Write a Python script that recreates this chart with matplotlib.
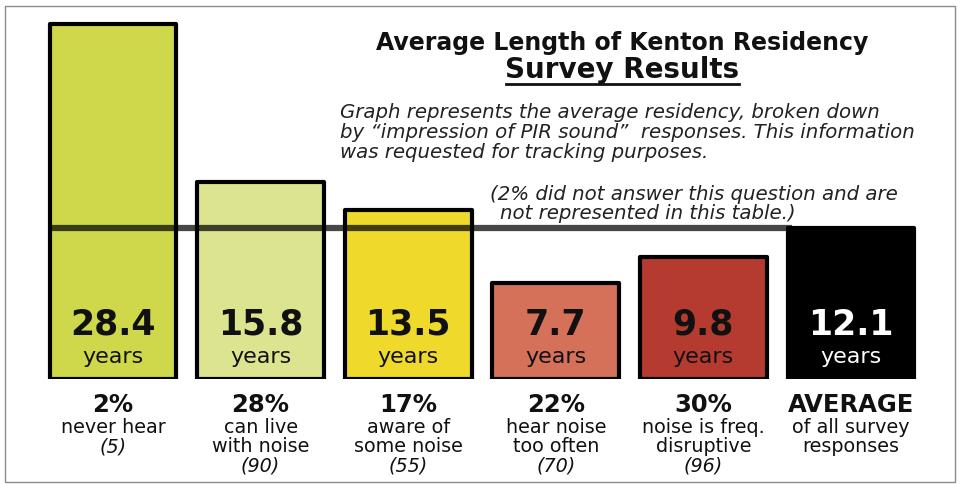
import matplotlib.pyplot as plt
from matplotlib.patches import Rectangle

# data
values = [28.4, 15.8, 13.5, 7.7, 9.8, 12.1]
pcts = ['2%', '28%', '17%', '22%', '30%', 'AVERAGE']
descs = [['never hear'], ['can live', 'with noise'], ['aware of', 'some noise'],
         ['hear noise', 'too often'], ['noise is freq.', 'disruptive'],
         ['of all survey', 'responses']]
counts = ['(5)', '(90)', '(55)', '(70)', '(96)', None]
colors = ['#cfd84a', '#dde48f', '#efd92a', '#d57158', '#b53b30', '#000000']
average = 12.1

W, H = 961, 485
fig = plt.figure(figsize=(W / 100, H / 100), dpi=100)
plt.rcParams['font.family'] = 'DejaVu Sans'

# axes: bars stand on y=380px, 12.5 px per year, bar spacing 147.6 px
ppy = 12.5
ppx = 147.6
ax = fig.add_axes([0, (H - 380) / H, 1, 380 / H])
ax.set_ylim(0, 380 / ppy)
ax.set_xlim(-113 / ppx, (W - 113) / ppx)
ax.axis('off')

x = list(range(len(values)))
ax.bar(x, values, width=0.86, color=colors, edgecolor='black', linewidth=3,
       zorder=2, joinstyle='round')
ax.hlines(average, -0.43, 4.6, color='black', alpha=0.72, linewidth=4.5, zorder=3)


def py(p):
    # pixel row -> years above the bar base
    return (380 - p) / ppy


for i, v in enumerate(values):
    tc = 'white' if i == 5 else '#111111'
    ax.text(i, py(325), f'{v:.1f}', ha='center', va='center', fontsize=25,
            fontweight='bold', color=tc, zorder=4)
    ax.text(i, py(357), 'years', ha='center', va='center', fontsize=16,
            color=tc, zorder=4)
    ax.text(i, py(405), pcts[i], ha='center', va='center', fontsize=17.5,
            fontweight='bold', color='#111111', clip_on=False)
    for j, line in enumerate(descs[i]):
        ax.text(i, py(428 + 19 * j), line, ha='center', va='center',
                fontsize=13.8, color='#111111', clip_on=False)
    if counts[i]:
        ax.text(i, py(428 + 19 * len(descs[i])), counts[i], ha='center',
                va='center', fontsize=13.8, style='italic', color='#111111',
                clip_on=False)


def ft(px, pyy, s, **kw):
    fig.text(px / W, 1 - pyy / H, s, **kw)


ft(622, 43, 'Average Length of Kenton Residency', ha='center', va='center',
   fontsize=17, fontweight='bold', color='#111111')
ft(622, 70, 'Survey Results', ha='center', va='center', fontsize=20,
   fontweight='bold', color='#111111')
fig.add_artist(plt.Line2D([506 / W, 739 / W], [1 - 85 / H, 1 - 85 / H],
                          color='#111111', linewidth=2))
para = ['Graph represents the average residency, broken down',
        'by \u201cimpression of PIR sound\u201d  responses. This information',
        'was requested for tracking purposes.']
for k, line in enumerate(para):
    ft(340, 113 + 20 * k, line, ha='left', va='center', fontsize=14.2,
       style='italic', color='#222222')
ft(490, 195, '(2% did not answer this question and are', ha='left',
   va='center', fontsize=14.2, style='italic', color='#222222')
ft(500, 214, 'not represented in this table.)', ha='left', va='center',
   fontsize=14.2, style='italic', color='#222222')

fig.add_artist(Rectangle((5 / W, 1 - 483 / H), 950 / W, 476 / H,
                         transform=fig.transFigure, fill=False,
                         edgecolor='#8a8a8a', linewidth=1))

fig.savefig('out.png', dpi=100, facecolor='white')
